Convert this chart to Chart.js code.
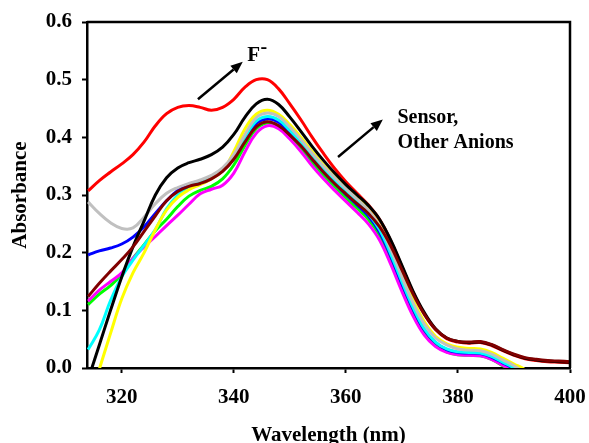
<!DOCTYPE html>
<html>
<head>
<meta charset="utf-8">
<script src="https://cdn.jsdelivr.net/npm/chart.js@4.4.1/dist/chart.umd.min.js"></script>
<style>
html,body{margin:0;padding:0;background:#fff;}
#wrap{width:589px;height:443px;}
</style>
</head>
<body>
<div id="wrap"><canvas id="c" width="589" height="443"></canvas></div>
<script>
const wavelengths = [314,316,318,320,322,324,326,328,330,332,334,336,338,340,342,344,346,348,350,352,354,356,358,360,362,364,366,368,370,372,374,376,378,380,382,384,386,388,390,392,394,396,398,400];
const seriesF = [0.307,0.325,0.340,0.354,0.370,0.392,0.420,0.441,0.452,0.455,0.452,0.447,0.452,0.466,0.487,0.500,0.500,0.484,0.458,0.430,0.400,0.372,0.346,0.323,0.303,0.283,0.258,0.221,0.176,0.131,0.094,0.067,0.051,0.045,0.043,0.044,0.039,0.030,0.022,0.016,0.013,0.011,0.010,0.009];
const seriesBlack = [-0.020,0.040,0.100,0.158,0.210,0.255,0.300,0.330,0.347,0.356,0.362,0.370,0.383,0.405,0.435,0.458,0.466,0.457,0.435,0.410,0.384,0.360,0.338,0.318,0.300,0.282,0.258,0.222,0.178,0.133,0.096,0.068,0.052,0.046,0.044,0.045,0.040,0.031,0.023,0.017,0.014,0.012,0.011,0.010];
const seriesMaroon = [0.124,0.147,0.168,0.188,0.210,0.237,0.264,0.290,0.306,0.315,0.320,0.328,0.341,0.362,0.392,0.418,0.427,0.420,0.404,0.385,0.362,0.340,0.320,0.302,0.285,0.268,0.245,0.212,0.170,0.128,0.093,0.067,0.052,0.046,0.045,0.046,0.041,0.032,0.024,0.018,0.015,0.013,0.012,0.011];
const seriesYellow = [-0.065,-0.002,0.060,0.120,0.165,0.200,0.240,0.274,0.296,0.309,0.318,0.328,0.342,0.375,0.415,0.440,0.447,0.440,0.422,0.400,0.375,0.352,0.332,0.313,0.295,0.277,0.250,0.210,0.163,0.118,0.080,0.055,0.042,0.036,0.034,0.033,0.027,0.017,0.007,-0.003,-0.020,null,null,null];
const seriesGrey = [0.288,0.268,0.252,0.242,0.243,0.262,0.285,0.303,0.313,0.320,0.326,0.334,0.347,0.370,0.405,0.434,0.442,0.436,0.418,0.396,0.372,0.350,0.330,0.311,0.293,0.274,0.247,0.206,0.158,0.113,0.076,0.052,0.040,0.033,0.031,0.030,0.024,0.014,0.004,-0.010,-0.030,null,null,null];
const seriesCyan = [0.032,0.066,0.117,0.158,0.187,0.213,0.240,0.276,0.300,0.315,0.323,0.331,0.344,0.366,0.400,0.428,0.436,0.430,0.412,0.390,0.366,0.344,0.324,0.305,0.287,0.268,0.240,0.198,0.150,0.105,0.068,0.045,0.033,0.028,0.027,0.026,0.020,0.010,0.000,-0.015,null,null,null,null];
const seriesBlue = [0.196,0.203,0.208,0.215,0.227,0.245,0.268,0.290,0.308,0.319,0.324,0.330,0.342,0.363,0.396,0.424,0.432,0.426,0.408,0.386,0.362,0.340,0.320,0.301,0.283,0.264,0.236,0.194,0.146,0.102,0.066,0.044,0.032,0.027,0.026,0.025,0.019,0.009,-0.002,-0.020,null,null,null,null];
const seriesGreen = [0.110,0.128,0.143,0.162,0.190,0.214,0.238,0.258,0.280,0.298,0.308,0.315,0.328,0.352,0.386,0.415,0.425,0.420,0.402,0.380,0.356,0.334,0.314,0.295,0.277,0.258,0.230,0.188,0.140,0.097,0.062,0.040,0.028,0.023,0.022,0.021,0.015,0.004,-0.008,null,null,null,null,null];
const seriesMagenta = [0.116,0.135,0.150,0.165,0.190,0.210,0.228,0.247,0.265,0.284,0.302,0.310,0.317,0.338,0.375,0.407,0.420,0.415,0.397,0.375,0.350,0.328,0.308,0.289,0.270,0.250,0.222,0.180,0.133,0.090,0.057,0.037,0.027,0.023,0.022,0.021,0.015,0.005,-0.006,null,null,null,null,null];
const xTicks = [320,340,360,380,400];
const yTicks = [0.0,0.1,0.2,0.3,0.4,0.5,0.6];

const FONT = '"Liberation Serif", "Times New Roman", serif';

function mk(label, data, color){
  return {label, data: wavelengths.map((w,i)=>({x:w,y:data[i]})), borderColor: color, backgroundColor: color,
    borderWidth: 3, pointRadius: 0, tension: 0.4, fill: false, clip: 0, spanGaps: false};
}

const annot = {
  id: 'annot',
  afterDatasetsDraw(chart){
    const {ctx, chartArea: a, scales: {x, y}} = chart;
    ctx.save();
    ctx.strokeStyle = '#000';
    ctx.lineWidth = 2.5;
    ctx.beginPath();
    ctx.moveTo(a.left, a.top); ctx.lineTo(a.right, a.top); ctx.lineTo(a.right, a.bottom);
    ctx.stroke();
    function arrow(x1,y1,x2,y2){
      const p1=[x.getPixelForValue(x1), y.getPixelForValue(y1)];
      const p2=[x.getPixelForValue(x2), y.getPixelForValue(y2)];
      const ang=Math.atan2(p2[1]-p1[1], p2[0]-p1[0]);
      const L=12, W=5;
      const bx=p2[0]-L*Math.cos(ang), by=p2[1]-L*Math.sin(ang);
      ctx.lineWidth=2.5; ctx.strokeStyle='#000'; ctx.fillStyle='#000';
      ctx.beginPath(); ctx.moveTo(p1[0],p1[1]); ctx.lineTo(bx,by); ctx.stroke();
      ctx.beginPath(); ctx.moveTo(p2[0],p2[1]);
      ctx.lineTo(bx + W*Math.sin(ang), by - W*Math.cos(ang));
      ctx.lineTo(bx - W*Math.sin(ang), by + W*Math.cos(ang));
      ctx.closePath(); ctx.fill();
    }
    arrow(333.6,0.466,341.6,0.531);
    arrow(358.6,0.366,366.6,0.431);
    ctx.fillStyle='#000';
    ctx.textBaseline='alphabetic';
    ctx.textAlign='left';
    ctx.font='bold 21px '+FONT;
    const fx=x.getPixelForValue(342.4), fy=y.getPixelForValue(0.533);
    ctx.fillText('F', fx, fy);
    const fw=ctx.measureText('F').width;
    ctx.font='bold 20px '+FONT;
    ctx.fillText('-', fx+fw+0.5, fy-8);
    ctx.font='bold 20px '+FONT;
    const sx=x.getPixelForValue(369.2);
    ctx.fillText('Sensor,', sx, y.getPixelForValue(0.424));
    ctx.fillText('Other Anions', sx, y.getPixelForValue(0.381));
    // axis titles
    ctx.font='bold 21px '+FONT;
    ctx.textAlign='center'; ctx.textBaseline='middle';
    ctx.fillText('Wavelength (nm)', (a.left+a.right)/2, 436);
    ctx.save();
    ctx.translate(21, (a.top+a.bottom)/2);
    ctx.rotate(-Math.PI/2);
    ctx.fillText('Absorbance', 0, 0);
    ctx.restore();
    ctx.restore();
  }
};

new Chart(document.getElementById('c'), {
  type: 'line',
  data: {
    datasets: [
      mk('Anion 8', seriesMaroon, '#800000'),
      mk('Sensor', seriesBlack, '#000000'),
      mk('F\u207B', seriesF, '#ff0000'),
      mk('Anion 2', seriesGrey, '#c0c0c0'),
      mk('Anion 1', seriesYellow, '#ffff00'),
      mk('Anion 3', seriesCyan, '#00ffff'),
      mk('Anion 4', seriesBlue, '#0000ff'),
      mk('Anion 6', seriesMagenta, '#ff00ff'),
      mk('Anion 5', seriesGreen, '#00ff00')
    ]
  },
  options: {
    responsive: false,
    animation: false,
    devicePixelRatio: 1,
    layout: {padding: {top: 22, right: 19, left: 0, bottom: 0}},
    plugins: {legend: {display: false}, tooltip: {enabled: false}},
    scales: {
      x: {
        type: 'linear', min: 313.8, max: 400,
        afterBuildTicks(s){ s.ticks = xTicks.map(v=>({value:v})); },
        afterFit(s){ s.height = 75; s.paddingLeft = 0; s.paddingRight = 0; },
        grid: {drawOnChartArea: false, drawTicks: true, tickLength: 5, tickWidth: 2, tickColor: '#000'},
        border: {display: true, color: '#000', width: 2.5},
        ticks: {color: '#000', padding: 12, maxRotation: 0, font: {family: FONT, size: 21, weight: 'bold'}, callback: v => String(v)}
      },
      y: {
        type: 'linear', min: 0, max: 0.6,
        afterBuildTicks(s){ s.ticks = yTicks.map(v=>({value:v})); },
        afterFit(s){ s.width = 87; s.paddingTop = 0; s.paddingBottom = 0; },
        grid: {drawOnChartArea: false, drawTicks: true, tickLength: 5, tickWidth: 2, tickColor: '#000'},
        border: {display: true, color: '#000', width: 2.5},
        ticks: {color: '#000', padding: 10, font: {family: FONT, size: 21, weight: 'bold'}, callback: v => Number(v).toFixed(1)}
      }
    }
  },
  plugins: [annot]
});
</script>
</body>
</html>
